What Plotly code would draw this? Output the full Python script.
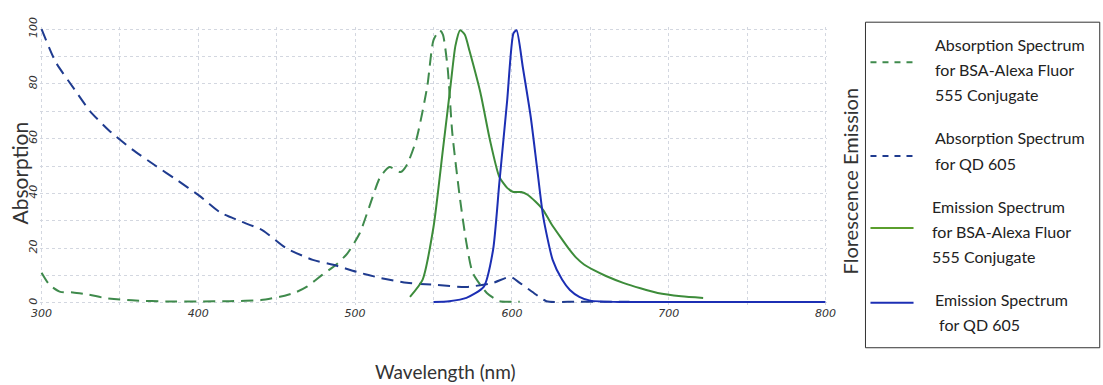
import plotly.graph_objects as go

# ---- data ----
abs_qd_wl = [300, 309, 321, 331, 343, 358, 373, 386, 401, 414, 426, 441, 456, 473, 486,
             501, 516, 533, 550, 571, 588, 599, 605, 614, 622, 640, 660, 675]
abs_qd_val = [100, 88, 78, 70, 63, 56, 50, 45, 39, 33, 30, 26.5, 20, 15.7, 13.9,
              11.3, 9.1, 7.3, 6.6, 5.8, 7.3, 9.5, 7.3, 3.6, 0.6, 0.4, 0.4, 0.4]

abs_af_wl = [300, 305, 312, 320, 330, 340, 350, 360, 380, 400, 420, 440, 452, 462, 469,
             479, 488, 495, 503, 509, 516, 522, 529, 533, 539, 546, 550, 554, 556, 559,
             562, 567, 571, 575, 584, 592, 600, 605]
abs_af_val = [11, 6.6, 4, 3.8, 3, 1.8, 1.2, 0.8, 0.5, 0.5, 0.6, 1, 2.2, 3.8, 5.8,
              10.2, 14, 18, 25.5, 35, 46, 49.6, 47.8, 50.4, 59.5, 79, 96, 99.6, 98, 86,
              62, 37.6, 21.9, 11, 3.6, 0.6, 0.4, 0.4]

em_af_wl = [535, 543, 550, 556, 561, 564, 567, 570, 573, 580, 586, 592, 597, 601, 606, 610,
            615, 620, 625, 631, 636, 641, 646, 652, 660, 671, 682, 693, 708, 722]
em_af_val = [2.2, 8.4, 27.7, 56, 80, 94, 99.6, 98, 92, 76.6, 59.5, 46, 42, 40.5, 40.5, 39.5,
             37, 33.9, 29, 24, 20, 16.5, 14, 12, 9.8, 7.3, 5.3, 3.6, 2.4, 1.8]

em_qd_wl = [550, 560, 571, 582, 588, 592, 597, 601, 603, 607, 612, 616, 620, 626, 632, 637,
            643, 650, 670, 700, 750, 800]
em_qd_val = [0.3, 0.6, 1.8, 5.8, 19.3, 43.8, 74, 98.5, 99.6, 86, 68, 49.6, 31.4, 15.7, 8.5, 4.7,
             2.2, 0.8, 0.3, 0.3, 0.3, 0.3]

x_ticks = [300, 400, 500, 600, 700, 800]
y_ticks = [0, 20, 40, 60, 80, 100]

legend_lines = [
    ["Absorption Spectrum", "for BSA-Alexa Fluor", "555 Conjugate"],
    ["Absorption Spectrum", "for QD 605"],
    ["Emission Spectrum", "for BSA-Alexa Fluor", "555 Conjugate"],
    ["Emission Spectrum", " for QD 605"],
]

C_GREEN_DASH = "#3f8a4c"
C_BLUE_DASH = "#1f3b8f"
C_GREEN = "#3d8c3a"
C_BLUE = "#1c2fb4"
legend_colors = [C_GREEN_DASH, C_BLUE_DASH, "#5a9e2c", C_BLUE]
dashes = ["12px,7px", "12px,7px", "solid", "solid"]

# ---- layout geometry ----
W, H = 1103, 385
XR = [299, 801]
YR = [-0.8, 100.8]
px_per_nm = (825 - 42) / 500.0
px_per_val = (303 - 29) / 100.0
L = 42 - (300 - XR[0]) * px_per_nm
R = W - (825 + (XR[1] - 800) * px_per_nm)
T = 29 - (YR[1] - 100) * px_per_val
B = H - (303 + (0 - YR[0]) * px_per_val)
PW = W - L - R
PH = H - T - B


def px(xp):
    return (xp - L) / PW


def py(yp):
    return (H - B - yp) / PH


fig = go.Figure()
series = [
    (abs_af_wl, abs_af_val),
    (abs_qd_wl, abs_qd_val),
    (em_af_wl, em_af_val),
    (em_qd_wl, em_qd_val),
]
trace_colors = [C_GREEN_DASH, C_BLUE_DASH, C_GREEN, C_BLUE]
for (xs, ys), col, d, lines in zip(series, trace_colors, dashes, legend_lines):
    fig.add_trace(go.Scatter(
        x=xs, y=ys, mode="lines", name=" ".join(l.strip() for l in lines),
        line=dict(color=col, width=2, dash=d, shape="spline", smoothing=0.6),
        showlegend=False, hoverinfo="skip",
    ))

grid = dict(showgrid=True, gridcolor="#d3d7e0", gridwidth=1, griddash="dot")
fig.update_xaxes(
    range=XR, tickvals=x_ticks, ticktext=[str(v) for v in x_ticks],
    showline=False, zeroline=False, ticks="",
    tickfont=dict(family="DejaVu Sans", size=11, color="#333333", style="italic"),
    minor=dict(dtick=50, tick0=300, showgrid=True, gridcolor="#d3d7e0", griddash="dot"),
    **grid,
)
fig.update_yaxes(
    range=YR, tickvals=y_ticks, ticktext=[str(v) for v in y_ticks],
    tickangle=-90, showline=False, zeroline=False, ticks="",
    tickfont=dict(family="DejaVu Sans", size=11, color="#333333", style="italic"),
    minor=dict(dtick=10, tick0=0, showgrid=True, gridcolor="#d3d7e0", griddash="dot"),
    **grid,
)

shapes = []
annotations = []
# legend box
shapes.append(dict(type="rect", xref="paper", yref="paper",
                   x0=px(865), x1=px(1099), y0=py(348), y1=py(22),
                   line=dict(color="#333333", width=1), fillcolor="rgba(0,0,0,0)"))
sample_y = [62, 156, 228, 303]
line_y = [[44, 69, 94], [137, 163], [207, 232, 257], [300, 325]]
text_x = [932, 932, 929, 932]
for i in range(4):
    shapes.append(dict(type="line", xref="paper", yref="paper",
                       x0=px(870), x1=px(913), y0=py(sample_y[i]), y1=py(sample_y[i]),
                       line=dict(color=legend_colors[i], width=2,
                                 dash="6px,6px" if i < 2 else "solid")))
    for txt, yy in zip(legend_lines[i], line_y[i]):
        annotations.append(dict(
            xref="paper", yref="paper", x=px(text_x[i]), y=py(yy),
            xanchor="left", yanchor="middle", align="left", showarrow=False,
            text=txt, font=dict(family="Lato", size=16, color="#222222"),
        ))

annotations.append(dict(xref="paper", yref="paper", x=px(850), y=py(181),
                        text="Florescence Emission", textangle=-90, showarrow=False,
                        xanchor="center", yanchor="middle",
                        font=dict(family="Lato", size=20, color="#333333")))
annotations.append(dict(xref="paper", yref="paper", x=px(20), y=py(173),
                        text="Absorption", textangle=-90, showarrow=False,
                        xanchor="center", yanchor="middle",
                        font=dict(family="Lato", size=21, color="#333333")))
annotations.append(dict(xref="paper", yref="paper", x=px(445), y=py(372),
                        text="Wavelength (nm)", showarrow=False,
                        xanchor="center", yanchor="middle",
                        font=dict(family="Lato", size=19, color="#333333")))

fig.update_layout(
    width=W, height=H,
    margin=dict(l=L, r=R, t=T, b=B, pad=0),
    paper_bgcolor="white", plot_bgcolor="white",
    shapes=shapes, annotations=annotations,
    showlegend=False,
)

fig.write_html("out.html")
